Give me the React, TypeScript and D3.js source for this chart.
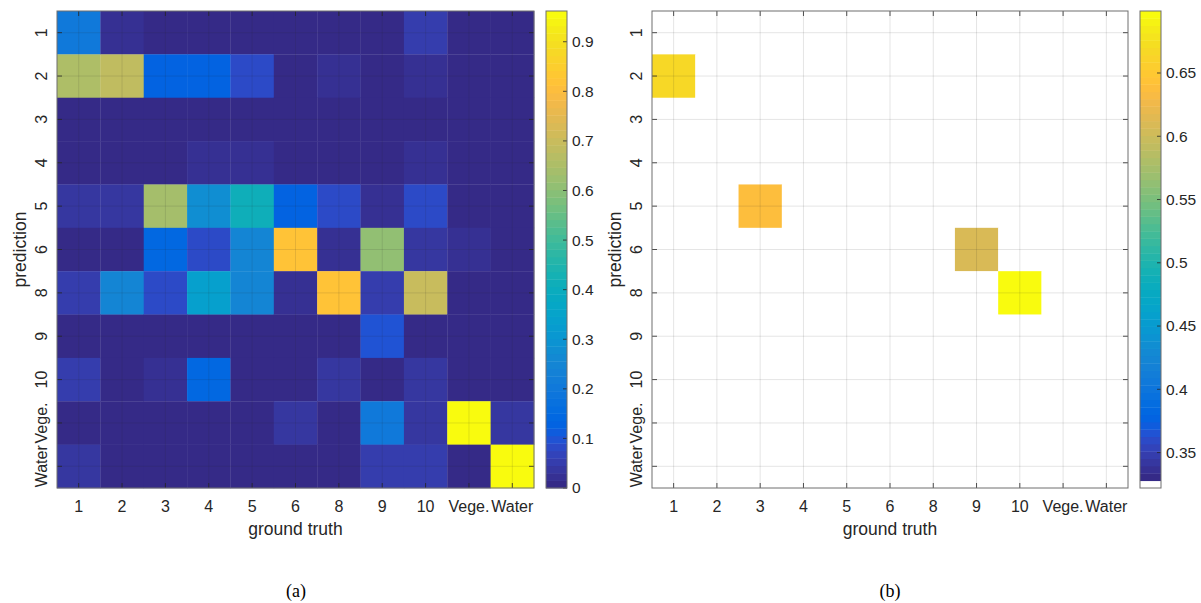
import React from "react";
import * as d3 from "d3";

const categories = ["1", "2", "3", "4", "5", "6", "8", "9", "10", "Vege.", "Water"];

// left matrix (a): rows = prediction, cols = ground truth
const matrixA: number[][] = [
  [0.203, 0.023, 0.005, 0.005, 0.005, 0.005, 0.005, 0.005, 0.05, 0.005, 0.005],
  [0.66, 0.68, 0.128, 0.128, 0.083, 0.005, 0.03, 0.005, 0.03, 0.005, 0.005],
  [0.005, 0.005, 0.005, 0.005, 0.005, 0.005, 0.005, 0.005, 0.005, 0.005, 0.005],
  [0.005, 0.005, 0.005, 0.023, 0.023, 0.005, 0.005, 0.005, 0.03, 0.005, 0.005],
  [0.038, 0.038, 0.639, 0.278, 0.413, 0.128, 0.083, 0.023, 0.083, 0.005, 0.005],
  [0.01, 0.01, 0.143, 0.083, 0.255, 0.819, 0.02, 0.609, 0.038, 0.03, 0.005],
  [0.053, 0.248, 0.083, 0.338, 0.255, 0.02, 0.82, 0.053, 0.699, 0.005, 0.005],
  [0.005, 0.005, 0.005, 0.005, 0.005, 0.005, 0.005, 0.098, 0.005, 0.005, 0.005],
  [0.053, 0.01, 0.03, 0.143, 0.005, 0.005, 0.038, 0.003, 0.038, 0.005, 0.005],
  [0.005, 0.005, 0.005, 0.005, 0.005, 0.038, 0.005, 0.203, 0.035, 0.96, 0.045],
  [0.038, 0.01, 0.01, 0.01, 0.01, 0.01, 0.01, 0.05, 0.05, 0.005, 0.955],
];

// right matrix (b): only a few non-empty cells
const matrixB: number[][] = [
  [0, 0, 0, 0, 0, 0, 0, 0, 0, 0, 0],
  [0.665, 0, 0, 0, 0, 0, 0, 0, 0, 0, 0],
  [0, 0, 0, 0, 0, 0, 0, 0, 0, 0, 0],
  [0, 0, 0, 0, 0, 0, 0, 0, 0, 0, 0],
  [0, 0, 0.638, 0, 0, 0, 0, 0, 0, 0, 0],
  [0, 0, 0, 0, 0, 0, 0, 0.609, 0, 0, 0],
  [0, 0, 0, 0, 0, 0, 0, 0, 0.699, 0, 0],
  [0, 0, 0, 0, 0, 0, 0, 0, 0, 0, 0],
  [0, 0, 0, 0, 0, 0, 0, 0, 0, 0, 0],
  [0, 0, 0, 0, 0, 0, 0, 0, 0, 0, 0],
  [0, 0, 0, 0, 0, 0, 0, 0, 0, 0, 0],
];

const climA: [number, number] = [0, 0.962];
const climB: [number, number] = [0.322, 0.699];
const ticksA = [0, 0.1, 0.2, 0.3, 0.4, 0.5, 0.6, 0.7, 0.8, 0.9];
const ticksB = [0.35, 0.4, 0.45, 0.5, 0.55, 0.6, 0.65];

const PARULA: number[][] = [
  [0.2081, 0.1663, 0.5292], [0.2116, 0.1898, 0.5777], [0.2123, 0.2138, 0.627], [0.2081, 0.2386, 0.6771],
  [0.1959, 0.2645, 0.7279], [0.1707, 0.2919, 0.7792], [0.1253, 0.3242, 0.8303], [0.0591, 0.3598, 0.8683],
  [0.0117, 0.3875, 0.882], [0.006, 0.4086, 0.8828], [0.0165, 0.4266, 0.8786], [0.0329, 0.443, 0.872],
  [0.0498, 0.4586, 0.8641], [0.0629, 0.4737, 0.8554], [0.0723, 0.4887, 0.8467], [0.0779, 0.504, 0.8384],
  [0.0793, 0.52, 0.8312], [0.0749, 0.5375, 0.8263], [0.0641, 0.557, 0.824], [0.0488, 0.5772, 0.8228],
  [0.0343, 0.5966, 0.8199], [0.0265, 0.6137, 0.8135], [0.0239, 0.6287, 0.8038], [0.0231, 0.6418, 0.7913],
  [0.0228, 0.6535, 0.7768], [0.0267, 0.6642, 0.7607], [0.0384, 0.6743, 0.7436], [0.059, 0.6838, 0.7254],
  [0.0843, 0.6928, 0.7062], [0.1133, 0.7015, 0.6859], [0.1453, 0.7098, 0.6646], [0.1801, 0.7177, 0.6424],
  [0.2178, 0.725, 0.6193], [0.2586, 0.7317, 0.5954], [0.3022, 0.7376, 0.5712], [0.3482, 0.7424, 0.5473],
  [0.3953, 0.7459, 0.5244], [0.442, 0.7481, 0.5033], [0.4871, 0.7491, 0.484], [0.53, 0.7491, 0.4661],
  [0.5709, 0.7485, 0.4494], [0.6099, 0.7473, 0.4337], [0.6473, 0.7456, 0.4188], [0.6834, 0.7435, 0.4044],
  [0.7184, 0.7411, 0.3905], [0.7525, 0.7384, 0.3768], [0.7858, 0.7356, 0.3633], [0.8185, 0.7327, 0.3498],
  [0.8507, 0.7299, 0.336], [0.8824, 0.7274, 0.3217], [0.9139, 0.7258, 0.3063], [0.945, 0.7261, 0.2886],
  [0.9739, 0.7314, 0.2666], [0.9938, 0.7455, 0.2403], [0.999, 0.7653, 0.2164], [0.9955, 0.7861, 0.1967],
  [0.988, 0.8066, 0.1794], [0.9789, 0.8271, 0.1633], [0.9697, 0.8481, 0.1475], [0.9626, 0.8705, 0.1309],
  [0.9589, 0.8949, 0.1132], [0.9598, 0.9218, 0.0948], [0.9661, 0.9514, 0.0755], [0.9763, 0.9831, 0.0538],
];
const parula = PARULA.map((c) => d3.rgb(c[0] * 255, c[1] * 255, c[2] * 255).formatHex());
const parulaWhite = ["#ffffff", ...parula];

function colorOf(v: number, clim: [number, number], map: string[]) {
  const m = map.length;
  let idx = Math.floor(((v - clim[0]) / (clim[1] - clim[0])) * m);
  idx = Math.max(0, Math.min(m - 1, idx));
  return map[idx];
}

const FONT = "Liberation Sans, Arial, Helvetica, sans-serif";
const AXC = "#262626";

function fmt(t: number) {
  return String(+t.toFixed(2));
}

function Panel(props: {
  x0: number; x1: number; y0: number; y1: number;
  cb0: number; cb1: number;
  data: number[][]; clim: [number, number]; cmap: string[]; ticks: number[];
}) {
  const { x0, x1, y0, y1, cb0, cb1, data, clim, cmap, ticks } = props;
  const xs = d3.scaleBand<string>().domain(categories).range([x0, x1]).padding(0);
  const ys = d3.scaleBand<string>().domain(categories).range([y0, y1]).padding(0);
  const bw = xs.bandwidth();
  const bh = ys.bandwidth();
  const cs = d3.scaleLinear().domain(clim).range([y1, y0]);
  const m = cmap.length;
  const segH = (y1 - y0) / m;
  const tl = 5;
  const cx = (x0 + x1) / 2;
  const cy = (y0 + y1) / 2;
  return (
    <g>
      {data.map((row, i) =>
        row.map((v, j) => (
          <rect key={`c${i}-${j}`} x={xs(categories[j])!} y={ys(categories[i])!} width={bw + 0.3} height={bh + 0.3}
            fill={colorOf(v, clim, cmap)} />
        ))
      )}
      {categories.map((c) => (
        <g key={`g${c}`}>
          <line x1={xs(c)! + bw / 2} x2={xs(c)! + bw / 2} y1={y0} y2={y1} stroke={AXC} strokeOpacity={0.12} strokeWidth={1} />
          <line y1={ys(c)! + bh / 2} y2={ys(c)! + bh / 2} x1={x0} x2={x1} stroke={AXC} strokeOpacity={0.12} strokeWidth={1} />
        </g>
      ))}
      {categories.map((c) => {
        const px = xs(c)! + bw / 2;
        const py = ys(c)! + bh / 2;
        return (
          <g key={`t${c}`} stroke={AXC} strokeWidth={0.8}>
            <line x1={px} x2={px} y1={y1} y2={y1 - tl} />
            <line x1={px} x2={px} y1={y0} y2={y0 + tl} />
            <line x1={x0} x2={x0 + tl} y1={py} y2={py} />
            <line x1={x1} x2={x1 - tl} y1={py} y2={py} />
          </g>
        );
      })}
      <rect x={x0} y={y0} width={x1 - x0} height={y1 - y0} fill="none" stroke="#6e6e6e" strokeWidth={1} />
      {categories.map((c) => (
        <text key={`xl${c}`} x={xs(c)! + bw / 2} y={y1 + 24} textAnchor="middle" fontFamily={FONT} fontSize={16} fill={AXC}>{c}</text>
      ))}
      {categories.map((c) => {
        const py = ys(c)! + bh / 2;
        return (
          <text key={`yl${c}`} transform={`translate(${x0 - 10.5},${py}) rotate(-90)`} textAnchor="middle" fontFamily={FONT} fontSize={16} fill={AXC}>{c}</text>
        );
      })}
      <text x={cx} y={y1 + 47} textAnchor="middle" fontFamily={FONT} fontSize={17.5} fill={AXC}>ground truth</text>
      <text transform={`translate(${x0 - 31},${cy}) rotate(-90)`} textAnchor="middle" fontFamily={FONT} fontSize={17.5} fill={AXC}>prediction</text>
      {cmap.map((col, k) => (
        <rect key={`cb${k}`} x={cb0} y={y1 - (k + 1) * segH} width={cb1 - cb0} height={segH + 0.4} fill={col} />
      ))}
      {ticks.map((t) => (
        <g key={`cbt${t}`}>
          <line x1={cb1} x2={cb1 - 4} y1={cs(t)} y2={cs(t)} stroke={AXC} strokeWidth={0.8} />
          <text x={cb1 + 5} y={cs(t)} dy="0.35em" fontFamily={FONT} fontSize={15.5} fill={AXC}>{fmt(t)}</text>
        </g>
      ))}
      <rect x={cb0} y={y0} width={cb1 - cb0} height={y1 - y0} fill="none" stroke="#6e6e6e" strokeWidth={1} />
    </g>
  );
}

export default function App() {
  return (
    <svg width={1201} height={603} style={{ position: "absolute", left: 0, top: 0, background: "#fff" }}>
      <Panel x0={57} x1={534} y0={11} y1={488} cb0={546} cb1={567} data={matrixA} clim={climA} cmap={parula} ticks={ticksA} />
      <Panel x0={652} x1={1128} y0={11} y1={488} cb0={1140} cb1={1161} data={matrixB} clim={climB} cmap={parulaWhite} ticks={ticksB} />
      <text x={296} y={597} textAnchor="middle" fontFamily="Liberation Serif, Times New Roman, serif" fontSize={18} fill="#000">(a)</text>
      <text x={890} y={597} textAnchor="middle" fontFamily="Liberation Serif, Times New Roman, serif" fontSize={18} fill="#000">(b)</text>
    </svg>
  );
}
